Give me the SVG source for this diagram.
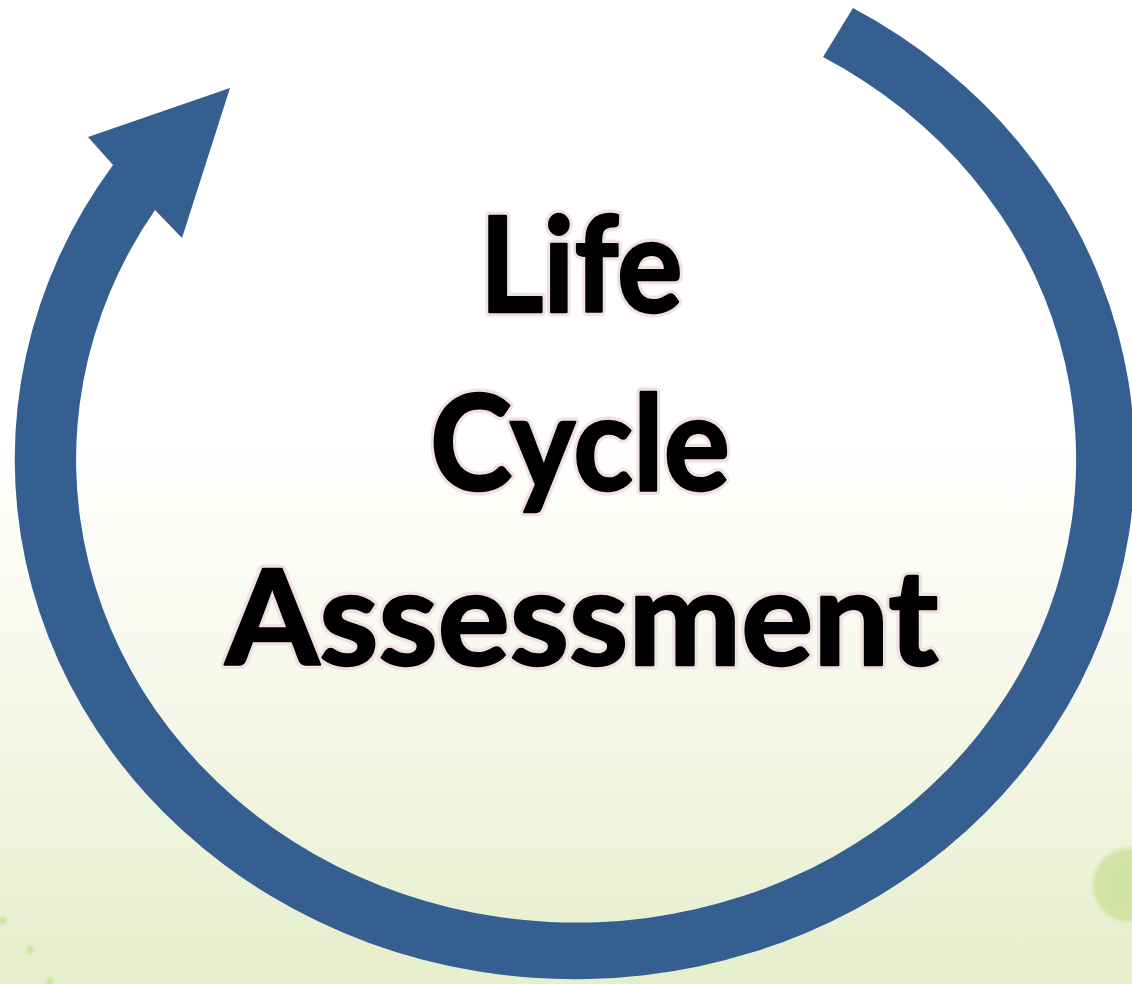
<svg xmlns="http://www.w3.org/2000/svg" width="1132" height="984" viewBox="0 0 1132 984">
  <defs>
    <linearGradient id="bg" x1="0" y1="0" x2="0" y2="1">
      <stop offset="0" stop-color="#ffffff"/>
      <stop offset="0.45" stop-color="#ffffff"/>
      <stop offset="0.7" stop-color="#f6f8ea"/>
      <stop offset="1" stop-color="#e6eecb"/>
    </linearGradient>
    <radialGradient id="dot" cx="0.5" cy="0.5" r="0.5">
      <stop offset="0" stop-color="#cfe2a0"/>
      <stop offset="0.85" stop-color="#d3e4a6"/>
      <stop offset="1" stop-color="#d3e4a6" stop-opacity="0"/>
    </radialGradient>
    <filter id="soft" x="-20%" y="-20%" width="140%" height="140%">
      <feGaussianBlur stdDeviation="1.2"/>
    </filter>
    <style>
      .title { font-family: "Lato", "Liberation Sans", sans-serif; font-weight: 700; font-size: 133px; text-anchor: middle; stroke-linejoin: round; }
      .halo { fill: #f1e2e2; stroke: #f1e2e2; stroke-width: 9; }
      .ink { fill: #000; stroke: #000; stroke-width: 2.5; }
      .arrow { fill: #365f91; }
    </style>
  </defs>

  <!-- background -->
  <rect x="0" y="0" width="1132" height="984" fill="url(#bg)"/>
  <circle cx="1130" cy="885" r="40" fill="url(#dot)"/>
  <g fill="#d2e3a0" filter="url(#soft)">
    <circle cx="2" cy="921" r="4"/>
    <circle cx="30" cy="950" r="4"/>
    <circle cx="50" cy="982" r="4"/>
  </g>

  <!-- circular arrow -->
  <g id="connectors">
    <path class="arrow" d="M853,8 A560,520 0 1 1 113,165 L88,137 L230,88 L182,238 L155,210 A500,463 0 1 0 823,57 Z"/>
  </g>

  <!-- title: soft light halo under heavy black lettering -->
  <g id="title">
    <g class="title halo">
      <text x="581" y="312" textLength="203" lengthAdjust="spacingAndGlyphs">Life</text>
      <text x="580" y="490" textLength="300" lengthAdjust="spacingAndGlyphs">Cycle</text>
      <text x="582" y="665" textLength="713" lengthAdjust="spacingAndGlyphs">Assessment</text>
    </g>
    <g class="title ink">
      <text x="581" y="312" textLength="203" lengthAdjust="spacingAndGlyphs">Life</text>
      <text x="580" y="490" textLength="300" lengthAdjust="spacingAndGlyphs">Cycle</text>
      <text x="582" y="665" textLength="713" lengthAdjust="spacingAndGlyphs">Assessment</text>
    </g>
  </g>
</svg>
